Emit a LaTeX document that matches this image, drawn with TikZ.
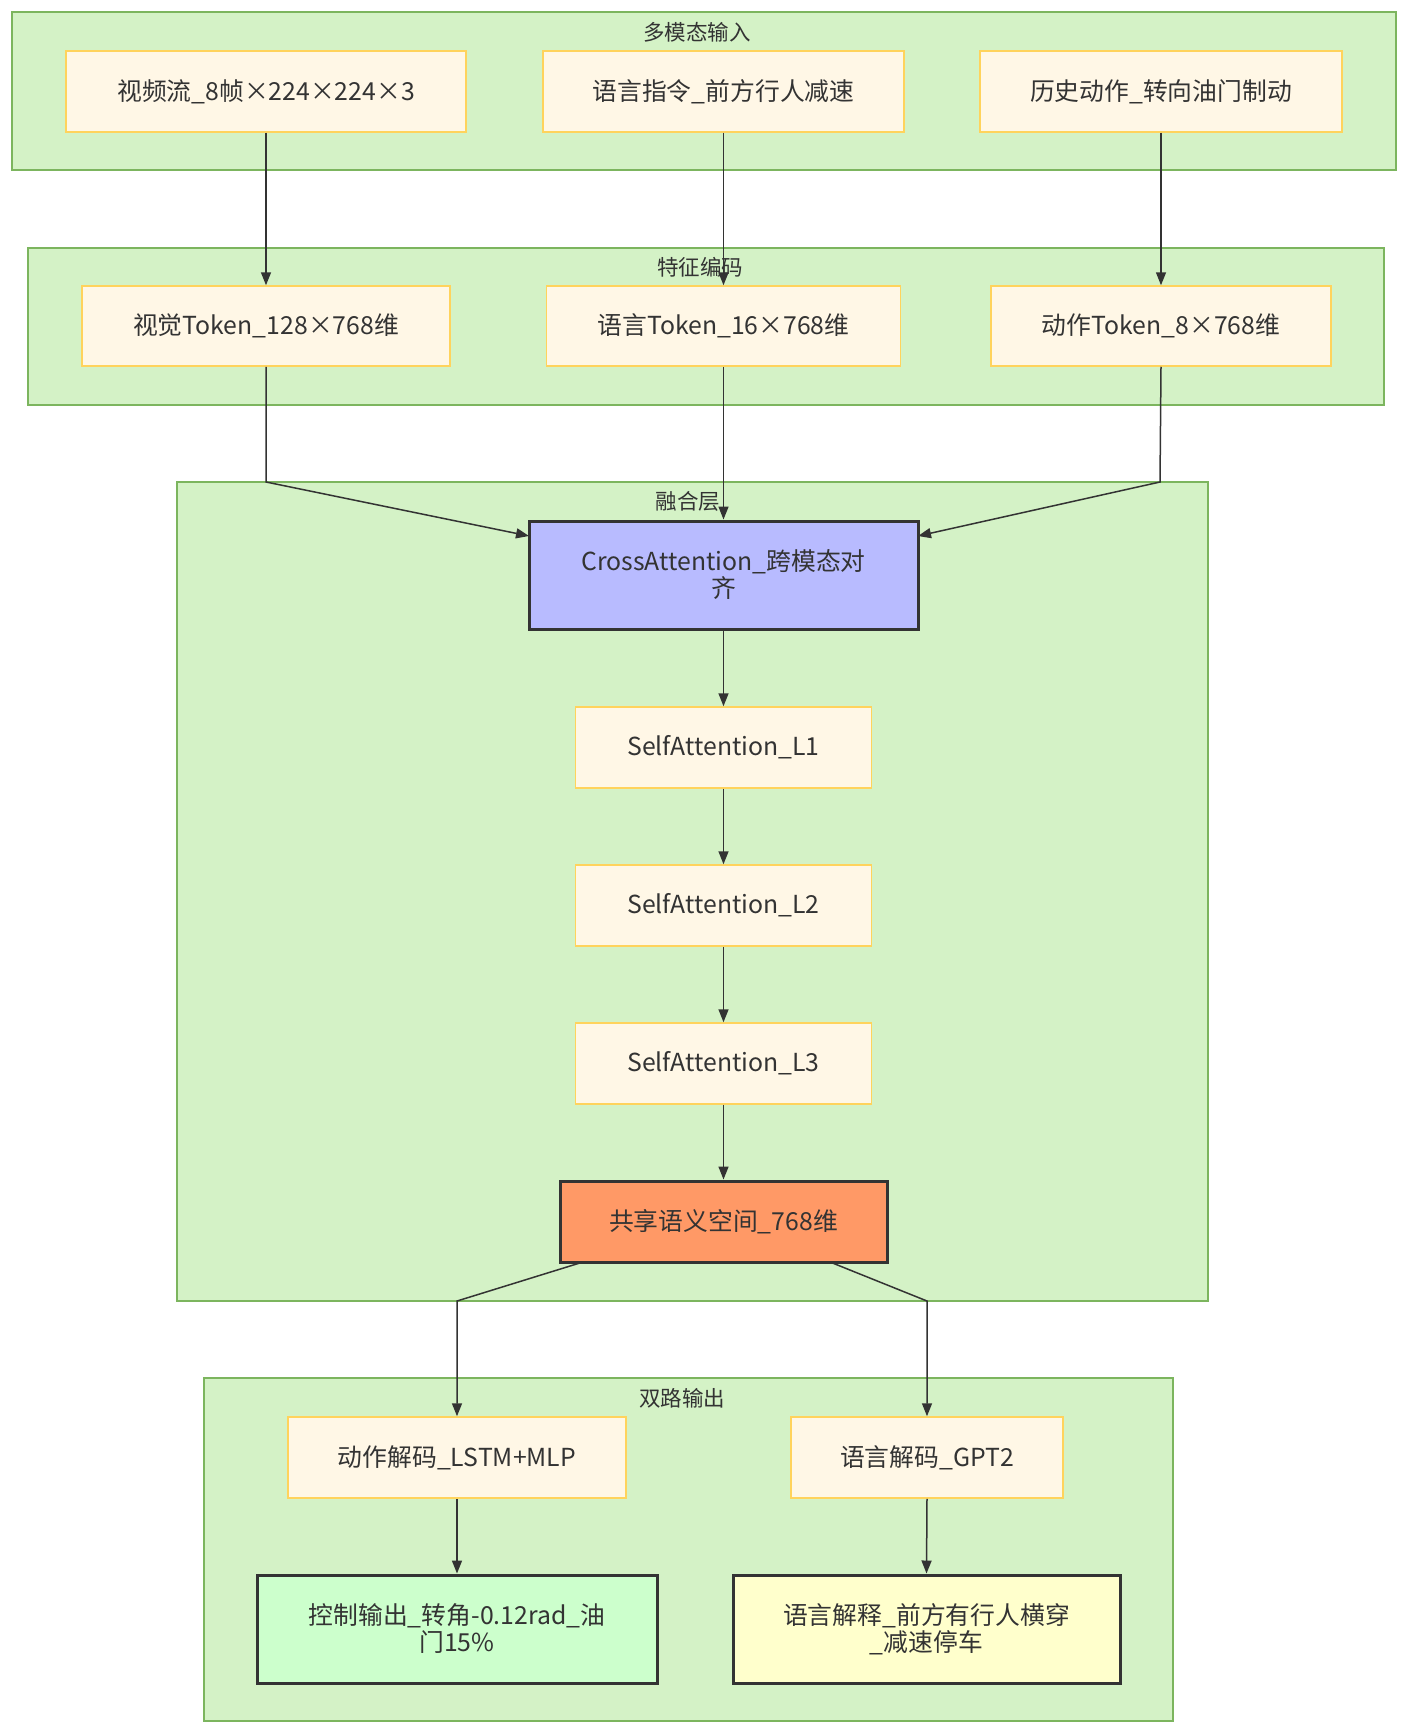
\documentclass[tikz,border=0pt]{standalone}
\usepackage{fontspec}
\setmainfont{Noto Sans CJK SC}
\usetikzlibrary{arrows.meta}
\definecolor{clfill}{HTML}{D4F2C6}
\definecolor{cldraw}{HTML}{7CB55E}
\definecolor{ndfill}{HTML}{FFF7E6}
\definecolor{nddraw}{HTML}{FFD35C}
\definecolor{dark}{HTML}{333333}
\definecolor{crossfill}{HTML}{B8BBFF}
\definecolor{sharedfill}{HTML}{FF9966}
\definecolor{ctrlfill}{HTML}{CCFFCC}
\definecolor{explfill}{HTML}{FFFFCC}
\tikzset{
  cluster/.style={draw=cldraw, fill=clfill, line width=1.5pt},
  cltitle/.style={font=\fontsize{21.5}{24}\selectfont, text=dark, inner sep=0pt},
  box/.style={draw=nddraw, fill=ndfill, line width=1.5pt, font=\fontsize{24.8}{27}\selectfont, text=dark, align=center, inner sep=0pt},
  hbox/.style={draw=dark, line width=3pt, font=\fontsize{24.8}{27}\selectfont, text=dark, align=center, inner sep=0pt},
  arr/.style={draw=dark, line width=1.5pt, -{Triangle[length=13pt,width=10pt]}}
}
\begin{document}
\begin{tikzpicture}[x=1pt, y=-1pt]
\useasboundingbox (0,0) rectangle (1408,1734);
\fill[white] (0,0) rectangle (1408,1734);
% clusters
\draw[cluster] (12,12) rectangle (1396,170);
\node[cltitle] (t1) at (697,32) {多模态输入};
\draw[cluster] (28,248) rectangle (1384,405);
\node[cltitle] (t2) at (700,267) {特征编码};
\draw[cluster] (177,482) rectangle (1208,1301);
\node[cltitle] (t3) at (688,501) {融合层};
\draw[cluster] (204,1378) rectangle (1173,1721);
\node[cltitle] (t4) at (682,1398) {双路输出};
% row 1
\node[box, minimum width=400pt, minimum height=81pt] (a1) at (266,91.5) {视频流\_8帧×224×224×3};
\node[box, minimum width=361pt, minimum height=81pt] (a2) at (723.5,91.5) {语言指令\_前方行人减速};
\node[box, minimum width=362pt, minimum height=81pt] (a3) at (1161,91.5) {历史动作\_转向油门制动};
% row 2
\node[box, minimum width=368pt, minimum height=80pt] (b1) at (266,326) {视觉Token\_128×768维};
\node[box, minimum width=354pt, minimum height=80pt] (b2) at (723.5,326) {语言Token\_16×768维};
\node[box, minimum width=340pt, minimum height=80pt] (b3) at (1161,326) {动作Token\_8×768维};
% fusion
\node[hbox, fill=crossfill, minimum width=389pt, minimum height=108pt] (cross) at (723.5,575) {CrossAttention\_跨模态对\\齐};
\node[box, minimum width=296pt, minimum height=81pt] (sa1) at (723.5,747.5) {SelfAttention\_L1};
\node[box, minimum width=296pt, minimum height=81pt] (sa2) at (723.5,905.5) {SelfAttention\_L2};
\node[box, minimum width=296pt, minimum height=81pt] (sa3) at (723.5,1063.5) {SelfAttention\_L3};
\node[hbox, fill=sharedfill, minimum width=327pt, minimum height=81pt] (shared) at (723.5,1221.5) {共享语义空间\_768维};
% outputs
\node[box, minimum width=338pt, minimum height=81pt] (d1) at (457,1457.5) {动作解码\_LSTM+MLP};
\node[box, minimum width=272pt, minimum height=81pt] (d2) at (927,1457.5) {语言解码\_GPT2};
\node[hbox, fill=ctrlfill, minimum width=400pt, minimum height=108pt] (e1) at (457,1629) {控制输出\_转角-0.12rad\_油\\门15\%};
\node[hbox, fill=explfill, minimum width=387pt, minimum height=108pt] (e2) at (926.5,1629) {语言解释\_前方有行人横穿\\\_减速停车};
% coordinates
\coordinate (k1) at (266,482);
\coordinate (k3) at (1160,482);
\coordinate (cl) at (529,536);
\coordinate (cr) at (918,536);
\coordinate (s1) at (583,1262);
\coordinate (s2) at (830,1262);
\coordinate (m1) at (457,1301);
\coordinate (m2) at (927,1301);
% connectors
\draw[arr] (a1.south) -- (b1.north);
\draw[arr] (a2.south) -- (b2.north);
\draw[arr] (a3.south -| b3.north) -- (b3.north);
\draw[arr] (b1.south) -- (k1) -- (cl);
\draw[arr] (b2.south) -- (cross.north);
\draw[arr] (b3.south) -- (k3) -- (cr);
\draw[arr] (cross.south) -- (sa1.north);
\draw[arr] (sa1.south) -- (sa2.north);
\draw[arr] (sa2.south) -- (sa3.north);
\draw[arr] (sa3.south) -- (shared.north);
\draw[arr] (s1) -- (m1) -- (d1.north);
\draw[arr] (s2) -- (m2) -- (d2.north);
\draw[arr] (d1.south) -- (e1.north);
\draw[arr] (d2.south) -- (e2.north);
\end{tikzpicture}
\end{document}
